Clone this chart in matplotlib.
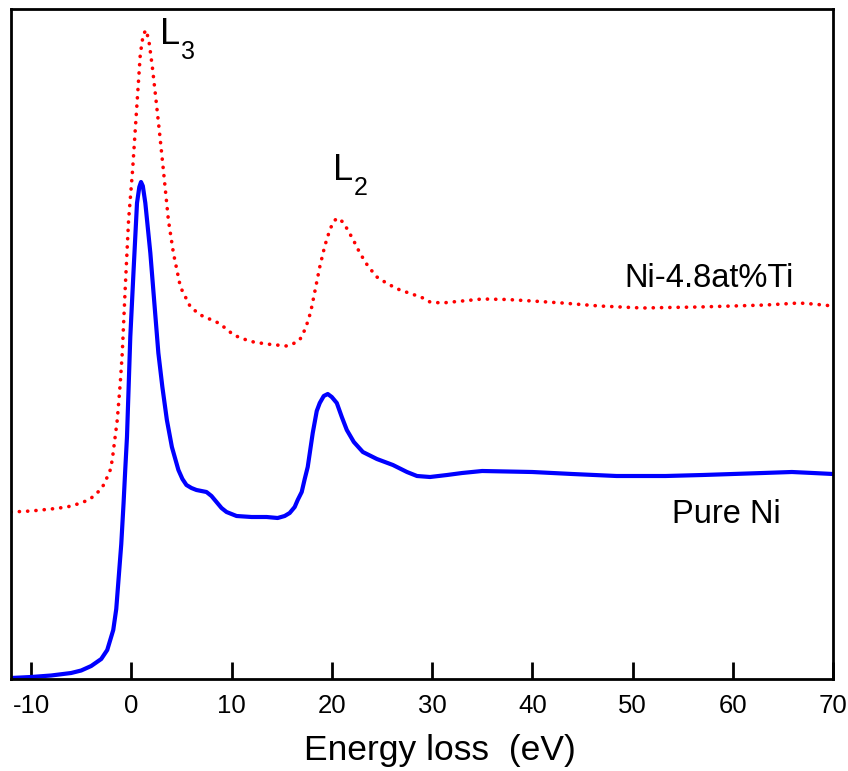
import matplotlib
matplotlib.use("Agg")
import matplotlib.pyplot as plt

plt.rcParams['font.family'] = ['Liberation Sans', 'DejaVu Sans']

# Pure Ni spectrum (energy loss eV, intensity a.u.)
pure_x = [-12, -10, -8, -6, -5, -4, -3, -2.4, -1.8, -1.5, -1.3, -1.0, -0.77, -0.6, -0.43,
          -0.1, 0.23, 0.57, 0.8, 0.97, 1.15, 1.4, 1.9, 2.3, 2.7, 3.1, 3.55, 4.05, 4.7,
          5.1, 5.5, 6.0, 6.5, 7.0, 7.5, 8.0, 8.5, 9.0, 9.5, 10.5, 12.0, 13.5, 14.6, 15.3,
          15.8, 16.3, 16.6, 17.0, 17.3, 17.6, 18.1, 18.5, 18.8, 19.2, 19.6, 20.0, 20.5,
          21.0, 21.5, 22.2, 23.1, 24.5, 26.1, 27.5, 28.5, 29.8, 31.5, 33, 35, 37.5, 40,
          44, 48.4, 53.3, 57, 60, 63, 65.9, 68, 70]
pure_y = [1, 2, 3.5, 6, 8.5, 13, 20, 29, 49, 70, 96, 135, 176, 210, 242,
          342, 409, 476, 492, 497, 493, 476, 426, 376, 326, 292, 259, 232, 209,
          200, 194, 191, 189, 188, 187, 183, 177, 171, 167, 163, 162, 162, 161, 163,
          166, 172, 179, 187, 200, 212, 246, 268, 276, 283, 285, 282, 276,
          262, 249, 237, 227, 220, 214, 207, 203, 202, 204, 206, 208, 207.5, 207,
          205, 203, 203, 204, 205, 206, 207, 206, 205]

# Ni-4.8at%Ti spectrum
ti_x = [-12, -10, -8, -6.4, -5, -4.1, -3.1, -2.7, -2.1, -1.9, -1.4, -1.1,
        -0.9, -0.6, -0.27, 0.13, 0.5, 0.9, 1.2, 1.5, 1.8, 2.1, 2.4, 2.8, 3.2,
        3.7, 4.2, 4.9, 5.9, 6.9, 7.8, 8.7, 9.5, 10.2, 11.2, 12.2, 13.5, 14.5, 15.5,
        16.1, 16.8, 17.3, 17.7, 18.0, 18.4, 18.8, 19.3, 19.8, 20.2, 20.6, 21.1, 21.6,
        22.2, 22.8, 23.6, 24.5, 25.6, 26.8, 28, 29.1, 29.8, 31, 33, 35, 37.5, 40, 43,
        46.7, 51, 53.5, 56.6, 60, 63.3, 66.6, 68, 70]
ti_y = [167, 168, 170, 172, 176, 180, 189, 195, 209, 219, 259, 296,
        326, 392, 459, 509, 565, 625, 645, 649, 635, 612, 585, 548, 509,
        459, 426, 392, 372, 364, 360, 356, 350, 344, 340, 337, 335, 334, 333,
        335, 339, 349, 360, 372, 392, 412, 433, 449, 458, 461, 457, 449,
        438, 426, 413, 402, 395, 389, 385, 381, 377, 376, 378, 380, 379.5, 378, 376,
        373, 371, 371.5, 372, 373, 374, 376, 375, 373]

xticks = [-10, 0, 10, 20, 30, 40, 50, 60, 70]

fig = plt.figure(figsize=(8.48, 7.71), dpi=100)
ax = fig.add_axes([11/848, 1-679/771, 822/848, 670/771])

ax.plot(pure_x, pure_y, color=(0, 0, 1), lw=3.0, solid_capstyle='round', solid_joinstyle='round')
ax.plot(ti_x, ti_y, color=(1, 0, 0), lw=2.6, linestyle=(0, (0.05, 2.25)), dash_capstyle='round')

ax.set_xlim(-12, 70)
ax.set_ylim(0, 670)
ax.set_xticks(xticks)
ax.set_xticklabels([str(t) for t in xticks])
ax.set_yticks([])
ax.tick_params(axis='x', direction='in', length=12, width=2, labelsize=18.5, pad=11)
for s in ax.spines.values():
    s.set_linewidth(2)

ax.text(2.9, 635, 'L', fontsize=26, ha='left', va='baseline')
ax.text(4.98, 620, '3', fontsize=18, ha='left', va='baseline')
ax.text(20.1, 499, 'L', fontsize=26, ha='left', va='baseline')
ax.text(22.2, 484, '2', fontsize=18, ha='left', va='baseline')
ax.text(49.15, 392, 'Ni-4.8at%Ti', fontsize=23.5, ha='left', va='baseline')
ax.text(53.9, 156, 'Pure Ni', fontsize=23.5, ha='left', va='baseline')

fig.text(440/848, 1-760/771, 'Energy loss  (eV)', fontsize=25.5, ha='center', va='baseline')

fig.savefig('out.png', dpi=100)
